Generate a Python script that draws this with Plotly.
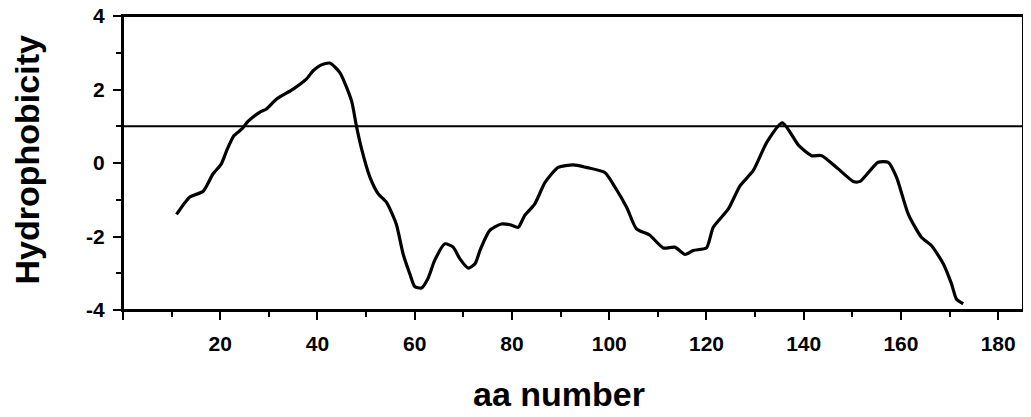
import plotly.graph_objects as go

# Hydrophobicity profile
aa_pos = [11, 13.7, 16.5, 18.5, 20.2, 21.3, 22.8, 24.4, 25.7, 28.1, 29.5, 31.6, 35.0, 37.7, 39.1,
          40.5, 42.5, 44.6, 47.0, 48.0, 49.0, 50.8, 52.5, 54.2, 56.2, 57.6, 59.0, 60.0, 61.4,
          62.7, 64.1, 66.2, 67.9, 69.3, 71.0, 72.4, 73.5, 75.4, 77.8, 79.6, 81.3, 82.6, 84.7,
          86.8, 89.5, 92.6, 95.3, 99.1, 101.2, 103.6, 105.6, 108.3, 111.1, 113.5, 115.6, 117.3,
          120.0, 121.4, 124.5, 126.9, 129.6, 132.4, 135.6, 139.0, 141.6, 143.7, 147.1, 150.2,
          151.6, 155.3, 157.4, 159.1, 161.5, 164.2, 166.3, 168.7, 170.4, 171.4, 172.8]
hydro = [-1.40, -0.93, -0.77, -0.30, -0.03, 0.33, 0.74, 0.92, 1.13, 1.38, 1.47, 1.74, 2.01, 2.28, 2.51,
         2.65, 2.72, 2.46, 1.69, 1.01, 0.42, -0.39, -0.84, -1.07, -1.66, -2.47, -3.02, -3.36, -3.40,
         -3.15, -2.65, -2.20, -2.29, -2.61, -2.86, -2.74, -2.35, -1.84, -1.66, -1.68, -1.75, -1.43, -1.11,
         -0.53, -0.12, -0.05, -0.12, -0.26, -0.66, -1.21, -1.79, -1.96, -2.31, -2.29, -2.49, -2.38,
         -2.31, -1.75, -1.25, -0.62, -0.21, 0.56, 1.09, 0.47, 0.20, 0.20, -0.16, -0.50,
         -0.50, 0.02, 0.02, -0.39, -1.39, -2.02, -2.25, -2.74, -3.29, -3.70, -3.83]

x_tickvals = [0, 20, 40, 60, 80, 100, 120, 140, 160, 180]
x_ticktext = ["", "20", "40", "60", "80", "100", "120", "140", "160", "180"]
y_tickvals = [-4, -2, 0, 2, 4]
y_ticktext = ["-4", "-2", "0", "2", "4"]
threshold = 1

FONT = "Liberation Sans, Arial, sans-serif"

fig = go.Figure()
fig.add_trace(go.Scatter(x=aa_pos, y=hydro, mode="lines",
                         line=dict(color="black", width=3.2, shape="spline", smoothing=0.6),
                         showlegend=False, hoverinfo="skip", cliponaxis=False))
fig.add_hline(y=threshold, line=dict(color="black", width=2))

# plot frame (box around the plotting area)
fig.add_shape(type="rect", xref="paper", yref="paper", x0=0, x1=1, y0=0, y1=1,
              line=dict(color="black", width=2), fillcolor="rgba(0,0,0,0)", layer="above")

axis_common = dict(showline=True, linecolor="black", linewidth=2, mirror=True,
                   showgrid=False, zeroline=False, ticks="outside", ticklen=8,
                   tickwidth=2, tickcolor="black", automargin=False,
                   ticklabeloverflow="allow",
                   tickfont=dict(family=FONT, size=21, color="black", weight="bold"))

fig.update_xaxes(range=[0, 185.1], tickmode="array", tickvals=x_tickvals, ticktext=x_ticktext,
                 minor=dict(ticks="outside", ticklen=5, tickwidth=2, tickcolor="black",
                            dtick=10, tick0=0, showgrid=False),
                 ticklabelstandoff=6, **axis_common)
fig.update_yaxes(range=[-4, 4], tickmode="array", tickvals=y_tickvals, ticktext=y_ticktext,
                 minor=dict(ticks="outside", ticklen=5, tickwidth=2, tickcolor="black",
                            dtick=1, tick0=0, showgrid=False),
                 ticklabelstandoff=4, **axis_common)

fig.add_annotation(text="Hydrophobicity", xref="paper", yref="paper",
                   x=-0.1056, y=0.512, textangle=-90, showarrow=False,
                   xanchor="center", yanchor="middle",
                   font=dict(family=FONT, size=34, color="black", weight="bold"))
fig.add_annotation(text="aa number", xref="paper", yref="paper",
                   x=0.484, y=-0.286, showarrow=False,
                   xanchor="center", yanchor="middle",
                   font=dict(family=FONT, size=34, color="black", weight="bold"))

# page body has an 8px margin, so the figure is sized/offset to fit the 1031x417 window
fig.update_layout(width=1023, height=409, template="none",
                  margin=dict(l=115, r=8, t=8, b=107, pad=0),
                  plot_bgcolor="white", paper_bgcolor="white")

fig.write_html("out.html")
